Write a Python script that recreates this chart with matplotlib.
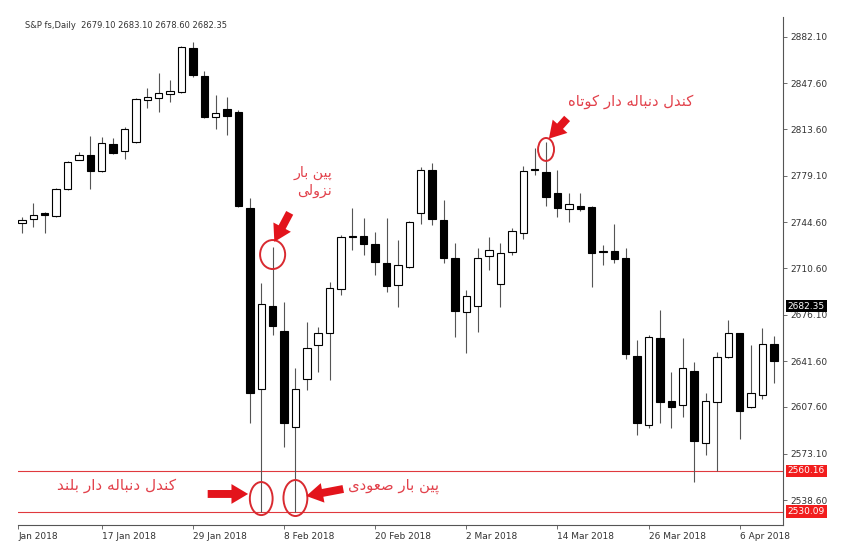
import matplotlib
matplotlib.use("Agg")
import matplotlib.pyplot as plt
import matplotlib.transforms as mtransforms
from matplotlib.patches import Ellipse, FancyArrowPatch
import pandas as pd

# trading days shown (30 Mar has no bar)
dates = [d for d in pd.bdate_range("2018-01-08", "2018-04-11") if d != pd.Timestamp("2018-03-30")]

opens = [2744.0, 2746.9, 2751.4, 2749.2, 2769.2, 2790.7, 2794.4, 2782.5, 2802.5, 2797.4,
         2804.0, 2835.2, 2836.7, 2839.6, 2841.1, 2873.7, 2853.0, 2822.6, 2828.5, 2826.3,
         2755.1, 2620.9, 2682.4, 2663.9, 2592.7, 2628.3, 2653.5, 2662.4, 2695.0, 2734.3,
         2734.3, 2728.4, 2714.3, 2698.0, 2711.3, 2751.4, 2783.3, 2746.1, 2718.0, 2678.0,
         2682.4, 2719.5, 2698.8, 2722.5, 2736.6, 2784.0, 2781.8, 2766.2, 2754.3, 2756.6,
         2755.8, 2722.5, 2723.2, 2718.0, 2645.4, 2594.2, 2658.7, 2612.0, 2609.1, 2634.3,
         2580.9, 2611.3, 2644.6, 2662.4, 2607.6, 2616.5, 2654.3]
highs = [2748.5, 2758.8, 2752.1, 2769.9, 2789.9, 2796.6, 2808.5, 2807.7, 2807.0, 2815.2,
         2836.7, 2844.1, 2855.2, 2850.0, 2875.2, 2878.2, 2856.7, 2838.9, 2837.4, 2827.8,
         2762.5, 2699.5, 2726.2, 2685.4, 2636.5, 2670.6, 2666.9, 2700.3, 2735.1, 2755.1,
         2747.7, 2737.3, 2747.7, 2731.4, 2745.5, 2785.5, 2788.5, 2761.0, 2729.1, 2694.3,
         2725.4, 2733.6, 2729.1, 2740.2, 2786.2, 2799.6, 2804.0, 2783.3, 2766.2, 2766.2,
         2756.6, 2727.7, 2743.3, 2725.4, 2657.2, 2661.0, 2679.5, 2633.5, 2658.7, 2640.9,
         2617.9, 2648.3, 2672.1, 2662.4, 2653.5, 2666.1, 2660.2]
lows = [2736.5, 2741.0, 2736.6, 2748.4, 2768.4, 2790.7, 2769.2, 2781.8, 2795.1, 2791.4,
        2803.3, 2829.2, 2826.3, 2833.7, 2840.4, 2852.2, 2821.8, 2813.7, 2809.2, 2755.8,
        2595.7, 2529.5, 2660.9, 2577.9, 2529.5, 2620.2, 2633.5, 2627.6, 2690.6, 2724.0,
        2720.3, 2705.4, 2692.8, 2681.7, 2710.6, 2743.3, 2742.5, 2714.3, 2659.5, 2647.6,
        2663.2, 2709.1, 2681.7, 2720.3, 2732.1, 2779.6, 2756.6, 2748.4, 2744.7, 2752.8,
        2696.5, 2712.8, 2714.3, 2643.2, 2586.8, 2591.9, 2595.7, 2591.9, 2600.2, 2552.0,
        2572.0, 2560.2, 2643.9, 2583.8, 2606.8, 2613.5, 2625.4]
closes = [2746.0, 2749.9, 2749.9, 2769.2, 2789.2, 2794.4, 2782.5, 2803.3, 2795.9, 2813.7,
          2835.9, 2837.4, 2840.4, 2841.9, 2874.5, 2853.7, 2822.6, 2825.5, 2823.3, 2756.6,
          2617.9, 2683.9, 2667.6, 2595.7, 2620.9, 2651.3, 2662.4, 2695.8, 2733.6, 2733.6,
          2728.4, 2715.1, 2697.3, 2712.8, 2744.7, 2783.3, 2746.9, 2718.0, 2678.7, 2689.9,
          2718.0, 2724.0, 2721.7, 2738.0, 2782.5, 2783.3, 2763.3, 2755.1, 2758.0, 2754.3,
          2721.7, 2722.8, 2717.3, 2646.9, 2595.7, 2659.5, 2611.3, 2607.6, 2636.5, 2582.4,
          2612.0, 2644.6, 2662.4, 2604.6, 2617.9, 2654.3, 2641.7]

price_ticks = [2882.10, 2847.60, 2813.60, 2779.10, 2744.60, 2710.60, 2676.10,
               2641.60, 2607.60, 2573.10, 2538.60]
label_idx = [7, 15, 23, 31, 39, 47, 55, 63]
last_price = 2682.35
level_lines = [2560.16, 2530.09]
header = "S&P fs,Daily  2679.10 2683.10 2678.60 2682.35"

RED = "#e3141c"
TXT_RED = "#e2414b"

# simple persian shaping (contextual forms + right to left)
FORMS = {
    "ا": ("\uFE8D", "\uFE8E", None, None),
    "ب": ("\uFE8F", "\uFE90", "\uFE91", "\uFE92"),
    "پ": ("\uFB56", "\uFB57", "\uFB58", "\uFB59"),
    "ت": ("\uFE95", "\uFE96", "\uFE97", "\uFE98"),
    "د": ("\uFEA9", "\uFEAA", None, None),
    "ر": ("\uFEAD", "\uFEAE", None, None),
    "ز": ("\uFEAF", "\uFEB0", None, None),
    "ص": ("\uFEB9", "\uFEBA", "\uFEBB", "\uFEBC"),
    "ع": ("\uFEC9", "\uFECA", "\uFECB", "\uFECC"),
    "ک": ("\uFB8E", "\uFB8F", "\uFB90", "\uFB91"),
    "ل": ("\uFEDD", "\uFEDE", "\uFEDF", "\uFEE0"),
    "ن": ("\uFEE5", "\uFEE6", "\uFEE7", "\uFEE8"),
    "ه": ("\uFEE9", "\uFEEA", "\uFEEB", "\uFEEC"),
    "و": ("\uFEED", "\uFEEE", None, None),
    "ی": ("\uFBFC", "\uFBFD", "\uFBFE", "\uFBFF"),
}


def fa(s):
    out = []
    for i, c in enumerate(s):
        if c not in FORMS:
            out.append(c)
            continue
        prev = s[i - 1] if i > 0 else " "
        nxt = s[i + 1] if i + 1 < len(s) else " "
        jp = prev in FORMS and FORMS[prev][2] is not None
        jn = nxt in FORMS and FORMS[c][2] is not None
        f = FORMS[c]
        out.append(f[3] if jp and jn else f[1] if jp else f[2] if jn else f[0])
    return "".join(reversed(out))


fig = plt.figure(figsize=(8.5, 5.53), dpi=100)
ax = fig.add_axes([18 / 850, 1 - 525 / 553, (783 - 18) / 850, (525 - 17) / 553])

# candles
x = list(range(len(dates)))
ax.vlines(x, lows, highs, color="#555555", lw=0.8, zorder=2)
bottoms = [min(o, c) for o, c in zip(opens, closes)]
heights = [max(abs(c - o), 0.8) for o, c in zip(opens, closes)]
faces = ["white" if c > o else "black" for o, c in zip(opens, closes)]
ax.bar(x, heights, bottom=bottoms, width=0.65, color=faces, edgecolor="black",
       linewidth=0.8, zorder=3)

for lv in level_lines:
    ax.axhline(lv, color="#e0393e", lw=0.8, zorder=1)

ax.set_xlim(-0.35, 66.8)
ax.set_ylim(2520.1, 2896.7)

for s in ["left", "top"]:
    ax.spines[s].set_visible(False)
for s in ["right", "bottom"]:
    ax.spines[s].set_color("#555555")
    ax.spines[s].set_linewidth(0.8)

ax.yaxis.tick_right()
ax.set_yticks(price_ticks)
ax.set_yticklabels(["%.2f" % p for p in price_ticks])
ax.tick_params(axis="y", length=3, width=0.6, color="#555555", labelsize=6.5,
               labelcolor="#333333", pad=2)

xt = [-0.35] + label_idx
xl = ["Jan 2018"] + ["%d %s" % (dates[i].day, dates[i].strftime("%b %Y")) for i in label_idx]
ax.set_xticks(xt)
ax.set_xticklabels(xl, ha="left")
ax.tick_params(axis="x", length=3, width=0.6, color="#555555", labelsize=6.5,
               labelcolor="#333333", pad=2)

# price boxes on the right scale
trans = mtransforms.blended_transform_factory(ax.transAxes, ax.transData)
ax.text(1.006, last_price, "%.2f" % last_price, transform=trans, ha="left", va="center",
        size=6.5, color="white", bbox=dict(boxstyle="square,pad=0.2", fc="black", ec="none"),
        clip_on=False, zorder=5)
for lv in level_lines:
    ax.text(1.006, lv, "%.2f" % lv, transform=trans, ha="left", va="center",
            size=6.5, color="white", bbox=dict(boxstyle="square,pad=0.2", fc="#f21d1d", ec="none"),
            clip_on=False, zorder=5)

fig.text(25 / 850, 1 - 25 / 553, header, size=6, color="#333333", va="center", ha="left")

# circles
for cx, cy, w, h in [(21, 2539.7, 2.0, 24.5), (24, 2540.1, 2.1, 26.7),
                     (22, 2720.6, 2.2, 21.5), (46, 2798.5, 1.4, 17.0)]:
    ax.add_patch(Ellipse((cx, cy), w, h, fill=False, ec="#d92a30", lw=1.4, zorder=6))

# arrows
for tail, head in [((16.3, 2543.1), (19.85, 2543.1)),
                   ((28.2, 2546.8), (24.95, 2541.6)),
                   ((23.5, 2751.5), (22.15, 2730.0)),
                   ((47.85, 2821.5), (46.25, 2806.5))]:
    ax.add_patch(FancyArrowPatch(tail, head,
                                 arrowstyle="simple,head_length=0.8,head_width=0.95,tail_width=0.38",
                                 mutation_scale=15, color=RED, lw=0, zorder=7,
                                 shrinkA=0, shrinkB=0))

# persian labels
ax.text(53.4, 2834.4, fa("کندل دنباله دار کوتاه"), ha="center", va="center",
        size=10.6, color=TXT_RED, family="DejaVu Sans")
ax.text(27.2, 2781.0, fa("پین بار"), ha="right", va="center", size=10.2, color=TXT_RED,
        family="DejaVu Sans")
ax.text(27.2, 2767.7, fa("نزولی"), ha="right", va="center", size=10.2, color=TXT_RED,
        family="DejaVu Sans")
ax.text(32.6, 2549.0, fa("پین بار صعودی"), ha="center", va="center", size=10.7,
        color=TXT_RED, family="DejaVu Sans")
ax.text(8.3, 2549.7, fa("کندل دنباله دار بلند"), ha="center", va="center", size=11,
        color=TXT_RED, family="DejaVu Sans")

fig.savefig("out.png", dpi=100)
